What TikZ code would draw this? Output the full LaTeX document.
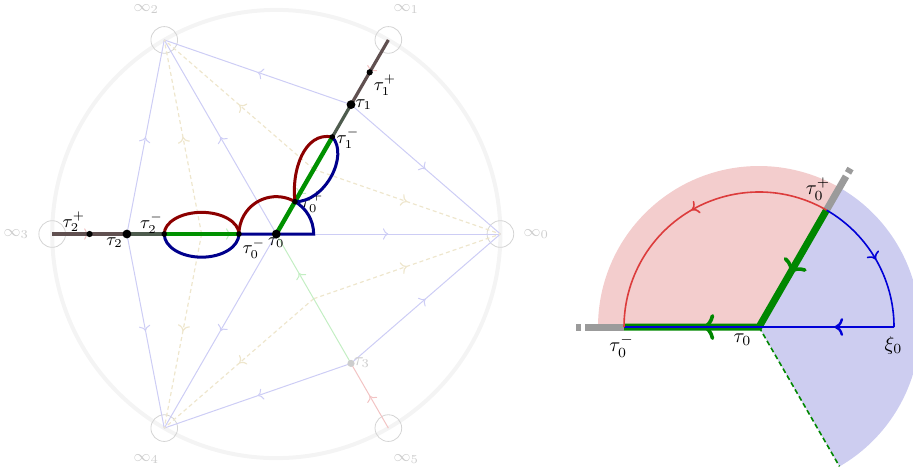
\documentclass[tikz,border=0pt]{standalone}
\usetikzlibrary{decorations.markings,arrows.meta}
\definecolor{dred}{RGB}{140,0,0}
\definecolor{dblue}{RGB}{0,0,140}
\definecolor{mgreen}{RGB}{0,145,0}
\definecolor{lblue}{RGB}{205,205,245}
\definecolor{lbeige}{RGB}{238,230,205}
\definecolor{lgreen}{RGB}{195,238,195}
\definecolor{lred}{RGB}{242,195,195}
\definecolor{cgray}{RGB}{244,244,244}
\definecolor{sgray}{RGB}{212,212,212}
\definecolor{infgray}{RGB}{205,205,205}
\definecolor{cutin}{RGB}{78,92,78}
\definecolor{cutout}{RGB}{96,80,80}
\definecolor{rfill}{RGB}{243,205,205}
\definecolor{bfill}{RGB}{205,205,240}
\definecolor{rarc}{RGB}{220,60,60}
\definecolor{barc}{RGB}{0,0,215}
\definecolor{rgreen}{RGB}{0,135,0}
\definecolor{rgray}{RGB}{155,155,155}
\tikzset{
  midarrow/.style={postaction={decorate},decoration={markings,mark=at position #1 with {\arrow{>}}}},
  lbl/.style={lblue,line width=0.5pt,midarrow=0.5},
  ldash/.style={lbeige,line width=0.6pt,dash pattern=on 2pt off 1.5pt,midarrow=0.5},
  lgr/.style={lgreen,line width=0.5pt,midarrow=0.7},
  lrd/.style={lred,line width=0.5pt,midarrow=0.5},
  cutA/.style={cutin,line width=1.6pt},
  cutB/.style={cutout,line width=1.6pt},
  loopred/.style={dred,line width=1.5pt},
  loopblue/.style={dblue,line width=1.5pt},
  thickgreen/.style={mgreen,line width=2.2pt},
  bigdot/.style={circle,fill=black,inner sep=0pt,minimum size=4.4pt},
  smalldot/.style={circle,fill=black,inner sep=0pt,minimum size=2.8pt},
  tlab/.style={font=\small,inner sep=0pt},
  inflab/.style={font=\footnotesize,text=infgray,inner sep=0pt},
  rlab/.style={font=\normalsize,inner sep=0pt},
  garrows/.style={postaction={decorate},decoration={markings,
    mark=at position 0.27 with {\arrow{To[length=6pt,width=13pt,line width=1.8pt]}},
    mark=at position 0.71 with {\arrow{To[length=6pt,width=13pt,line width=1.8pt]}}}},
}
\begin{document}
\begin{tikzpicture}[x=0.5pt,y=-0.5pt]
\useasboundingbox (0,0) rectangle (913,473);
\coordinate (O) at (276.3,234);
\coordinate (T) at (759,327);
% ---------------- left diagram ----------------
\begin{scope}[shift={(O)},x=18.675pt,y=18.675pt]
  \draw[cgray,line width=2pt] (0,0) circle (6);
  \foreach \k/\a in {0/0,1/60,2/120,3/180,4/240,5/300}{
    \coordinate (inf\k) at (\a:6);
    \draw[sgray,line width=0.4pt] (inf\k) circle (0.357);
    \node[inflab] (linf\k) at (\a:6.96) {$\infty_{\k}$};
  }
  \coordinate (t0) at (0,0);
  \coordinate (t0p) at (60:1);
  \coordinate (t0m) at (180:1);
  \coordinate (t1m) at (60:3);
  \coordinate (t1) at (60:4);
  \coordinate (t1p) at (60:5);
  \coordinate (t2m) at (180:3);
  \coordinate (t2) at (180:4);
  \coordinate (t2p) at (180:5);
  \coordinate (t3) at (-60:4);
  \coordinate (p1) at (60:2);
  \coordinate (p2) at (180:2);
  \coordinate (p3) at (-60:2);
  \coordinate (xr) at (1,0);
  % light spectral lines
  \draw[lbl] (t1) -- (inf2);
  \draw[lbl] (t1) -- (inf0);
  \draw[lbl] (t0) -- (inf2);
  \draw[lbl] (t0) -- (inf4);
  \draw[lbl] (t0) -- (inf0);
  \draw[lbl] (t2) -- (inf2);
  \draw[lbl] (t2) -- (inf4);
  \draw[lbl] (t3) -- (inf0);
  \draw[lbl] (t3) -- (inf4);
  % dashed lines
  \draw[ldash] (p1) -- (inf2);
  \draw[ldash] (p1) -- (inf0);
  \draw[ldash] (p2) -- (inf2);
  \draw[ldash] (p2) -- (inf4);
  \draw[ldash] (p3) -- (inf4);
  \draw[ldash] (p3) -- (inf0);
  % light green / red
  \draw[lgr] (t1) -- (t0);
  \draw[lgr] (t2) -- (t0);
  \draw[lgr] (t3) -- (t0);
  \draw[lrd] (inf1) -- (t1);
  \draw[lrd] (inf3) -- (t2);
  \draw[lrd] (inf5) -- (t3);
  % branch cuts
  \draw[cutA] (t1m) -- (t1);
  \draw[cutB] (t1) -- (inf1);
  \draw[cutA] (t2m) -- (t2);
  \draw[cutB] (t2) -- (inf3);
  % thick green
  \draw[thickgreen] (t0) -- (t1m);
  \draw[thickgreen] (t2m) -- (t0m);
  % label under loop
  \node[tlab] (lt0p) at (0.96,0.86) {$\tau_0^+$};
  % blue and red arcs
  \draw[loopblue] (t0m) -- (xr) arc[start angle=0,end angle=60,radius=1];
  \draw[loopred] (t0p) arc[start angle=60,end angle=180,radius=1];
  % loops
  \draw[loopred] (t2m) arc[start angle=180,end angle=0,x radius=1,y radius=0.58];
  \draw[loopblue] (t2m) arc[start angle=180,end angle=360,x radius=1,y radius=0.62];
  \draw[loopred] (t0p) .. controls (0.4,1.7) and (0.75,2.75) .. (t1m);
  \draw[loopblue] (t1m) .. controls (1.95,2.1) and (1.3,0.85) .. (t0p);
  % dots
  \node[bigdot] (d0) at (t0) {};
  \node[bigdot] (d1) at (t1) {};
  \node[bigdot] (d2) at (t2) {};
  \node[smalldot] (d0p) at (t0p) {};
  \node[smalldot] (d0m) at (t0m) {};
  \node[smalldot] (d1m) at (t1m) {};
  \node[smalldot] (d2m) at (t2m) {};
  \node[smalldot,minimum size=3.1pt] (d1p) at (t1p) {};
  \node[smalldot,minimum size=3.1pt] (d2p) at (t2p) {};
  \node[circle,fill=infgray,inner sep=0pt,minimum size=3.6pt] (d3) at (t3) {};
  % labels
  \node[tlab] (lt1p) at (2.91,3.99) {$\tau_1^+$};
  \node[tlab] (lt1) at (2.34,3.46) {$\tau_1$};
  \node[tlab] (lt1m) at (1.92,2.56) {$\tau_1^-$};
  \node[tlab] (lt0) at (0.0,-0.24) {$\tau_0$};
  \node[tlab] (lt0m) at (-0.6,-0.39) {$\tau_0^-$};
  \node[tlab] (lt2) at (-4.33,-0.24) {$\tau_2$};
  \node[tlab] (lt2m) at (-3.34,0.29) {$\tau_2^-$};
  \node[tlab] (lt2p) at (-5.42,0.33) {$\tau_2^+$};
  \node[tlab,text=infgray] (lt3) at (2.29,-3.45) {$\tau_3$};
\end{scope}
% ---------------- right diagram ----------------
\begin{scope}[shift={(T)},x=0.5pt,y=0.5pt]
  \coordinate (s0) at (0,0);
  \coordinate (s0m) at (180:135);
  \coordinate (s0p) at (60:135);
  \coordinate (xi0) at (0:135);
  \coordinate (dend) at (-60:161);
  \fill[rfill] (s0) -- (180:161) arc[start angle=180,end angle=60,radius=161] -- cycle;
  \fill[bfill] (s0) -- (60:161) arc[start angle=60,end angle=-60,radius=161] -- cycle;
  \draw[rgreen,line width=0.8pt,dash pattern=on 2.5pt off 1.5pt] (s0) -- (dend);
  \draw[rgray,line width=3.5pt] (s0m) -- (180:174);
  \draw[rgray,line width=3.5pt] (180:178) -- (180:183);
  \draw[rgray,line width=3.5pt] (s0p) -- (60:174);
  \draw[rgray,line width=3.5pt] (60:178) -- (60:183);
  \draw[rgreen,line width=3.5pt,line join=miter,garrows] (s0p) -- (s0) -- (s0m);
  \draw[barc,line width=1.2pt,midarrow=0.22] (xi0) -- (s0m);
  \draw[barc,line width=0.8pt,midarrow=0.5] (s0p) arc[start angle=60,end angle=0,radius=135];
  \draw[rarc,line width=0.8pt,midarrow=0.5] (s0p) arc[start angle=60,end angle=180,radius=135];
  \node[rlab] (rt0p) at (59,138) {$\tau_0^+$};
  \node[rlab] (rt0m) at (-137.5,-19) {$\tau_0^-$};
  \node[rlab] (rt0) at (-16.5,-12.5) {$\tau_0$};
  \node[rlab] (rxi) at (134.5,-18.5) {$\xi_0$};
\end{scope}
\end{tikzpicture}
\end{document}
